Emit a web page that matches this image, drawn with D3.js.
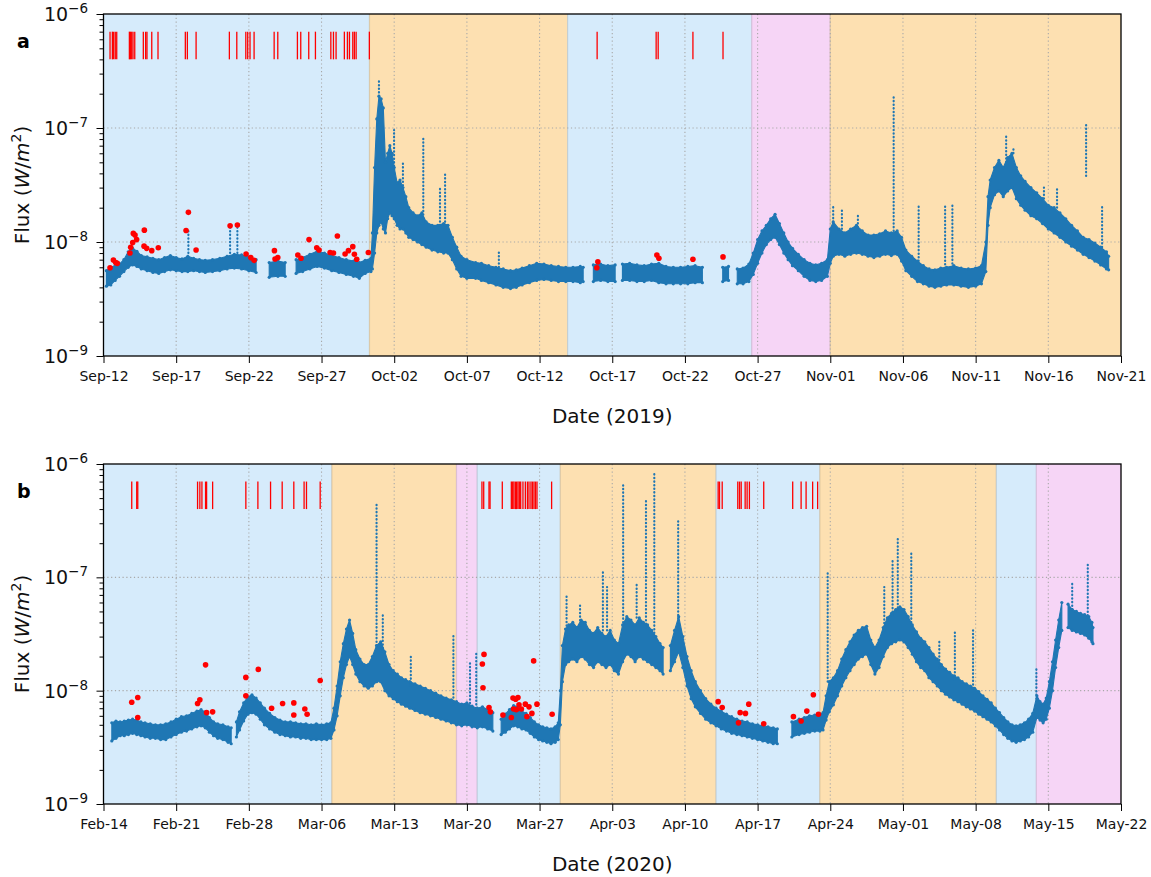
<!DOCTYPE html>
<html>
<head>
<meta charset="utf-8">
<script src="https://cdn.jsdelivr.net/npm/d3@7"></script>
<style>
  body { margin: 0; background: #fff; }
  svg { font-family: "DejaVu Sans", sans-serif; }
</style>
</head>
<body>
<svg id="chart" width="1151" height="877"></svg>
<script>
// flux values are written in units of 1e-9 W/m^2
const UNIT = 1e-9;
const FLARE_LO = 4e-7, FLARE_HI = 7e-7;

// ---------- 2019 ----------
const startA = new Date(Date.UTC(2019, 8, 12));
const endA = new Date(Date.UTC(2019, 10, 21));
// [from day, to day, kind]
const regionsA = [[0, 18.3, "quiet"], [18.3, 31.93, "active"], [31.93, 44.6, "quiet"], [44.6, 50.0, "rise"], [50.0, 70, "active"]];
const flaresA = [0.45, 0.61, 0.70, 0.81, 0.91, 1.78, 1.86, 1.94, 2.03, 2.15, 2.74, 2.90, 2.99, 3.32, 3.75, 5.63, 5.77, 6.37,
  8.66, 9.17, 9.79, 9.92, 10.08, 10.36, 11.74, 11.99, 13.34, 13.57, 14.12, 14.58, 15.64, 15.82, 16.00, 16.57, 16.78, 16.92,
  17.15, 17.26, 17.38, 18.29, 33.96, 38.02, 38.16, 40.55, 42.62];
// [day, low, high]
const fluxA = [[0.2,4.1,5.6],[0.5,4.2,6.0],[0.8,4.6,6.2],[1.1,5.0,6.4],[1.4,5.5,7.0],[1.7,6.0,8.2],[2.0,6.3,8.8],[2.3,6.1,8.3],
  [2.6,5.8,7.6],[3.0,5.6,7.4],[3.4,5.4,7.2],[3.8,5.3,7.0],[4.2,5.5,7.3],[4.6,5.7,7.6],[5.0,5.6,7.3],[5.4,5.5,7.1],[5.8,5.5,7.5],
  [6.2,5.6,7.2],[6.6,5.5,7.0],[7.0,5.4,6.9],[7.5,5.5,7.0],[8.0,5.6,7.2],[8.5,5.8,7.5],[9.0,5.9,7.8],[9.5,5.8,7.7],[10.0,5.6,7.4],
  [10.5,5.4,7.0],[10.6,null,null],[11.4,4.9,6.6],[12.0,5.0,6.8],[12.5,5.0,6.6],[12.6,null,null],[13.25,5.3,7.0],[13.7,5.5,7.3],
  [14.2,5.8,7.8],[14.7,6.1,8.3],[15.2,5.9,8.0],[15.7,5.6,7.6],[16.2,5.4,7.3],[16.7,5.2,7.0],[17.2,5.0,6.8],[17.6,4.8,6.6],
  [18.0,5.3,6.9],[18.4,5.5,7.2],[18.5,5.8,12],[18.65,8,45],[18.8,12,120],[18.95,14,190],[19.1,15,180],[19.25,13,150],
  [19.4,12,50],[19.55,16,60],[19.7,18,70],[19.85,17,60],[20.0,16,45],[20.2,14,33],[20.4,13,35],[20.6,13,30],[20.8,12,25],
  [21.0,11,20],[21.3,10.5,18],[21.6,10,17],[21.9,9.5,18],[22.2,9,15],[22.6,8.5,14],[23.0,8.2,14],[23.4,8.0,14.5],[23.7,8.0,14],
  [24.0,7.0,11],[24.3,5.8,9],[24.6,5.0,7.5],[25.0,4.8,7.0],[25.6,4.8,6.6],[26.0,4.6,6.5],[26.5,4.4,6.2],[27.0,4.2,6.0],
  [27.5,4.0,5.8],[28.0,3.9,5.6],[28.4,4.0,5.7],[28.8,4.2,5.9],[29.3,4.4,6.2],[29.8,4.6,6.5],[30.3,4.7,6.4],[30.8,4.6,6.2],
  [31.3,4.5,6.1],[31.8,4.5,6.0],[32.3,4.5,6.0],[32.8,4.4,6.1],[33.0,4.5,6.0],[33.1,null,null],[33.7,4.5,6.3],[34.2,4.6,6.4],
  [34.7,4.5,6.2],[35.2,4.5,6.3],[35.3,null,null],[35.7,4.6,6.4],[36.2,4.6,6.5],[36.7,4.5,6.3],[37.2,4.5,6.2],[37.7,4.6,6.4],
  [38.2,4.4,6.5],[38.7,4.3,6.1],[39.2,4.3,6.0],[39.7,4.3,6.0],[40.2,4.3,6.1],[40.7,4.4,6.2],[41.2,4.4,6.0],[41.3,null,null],
  [42.6,4.5,6.0],[43.0,4.6,6.1],[43.1,null,null],[43.6,4.3,5.8],[44.0,4.3,5.9],[44.4,4.5,6.4],[44.7,5.2,8.0],[45.0,6.5,10.5],
  [45.3,8.0,12.5],[45.6,9.5,14],[45.9,10.5,16],[46.2,11,17.5],[46.5,9.5,14.5],[46.8,8.0,12],[47.1,7.0,10],[47.4,6.2,8.8],
  [47.8,5.6,7.8],[48.2,5.0,7.0],[48.6,4.6,6.5],[49.0,4.5,6.3],[49.4,4.6,6.5],[49.8,5.0,7.0],[50.0,6.5,13],[50.2,7.5,15],
  [50.6,7.8,13],[51.0,7.5,12],[51.4,7.8,13],[51.8,8.0,14],[52.2,7.8,12.5],[52.6,7.5,11.5],[53.0,7.3,11.5],[53.4,7.5,11.8],
  [53.8,7.8,12.5],[54.2,7.6,12],[54.6,7.8,12.5],[54.9,6.8,11],[55.2,5.6,8.5],[55.6,5.0,7.5],[56.0,4.5,6.8],[56.4,4.3,6.2],
  [56.8,4.1,5.8],[57.2,4.0,5.7],[57.6,4.1,5.9],[58.0,4.2,6.0],[58.5,4.2,6.2],[59.0,4.1,5.9],[59.5,4.0,5.8],[60.0,4.1,5.9],
  [60.4,4.3,6.2],[60.7,5.5,10],[60.85,14,25],[61.0,20,35],[61.3,26,45],[61.6,28,52],[61.9,25,45],[62.2,28,55],[62.5,30,60],
  [62.8,24,45],[63.1,21,38],[63.4,19,34],[63.8,17,30],[64.2,16,27],[64.6,14.5,24],[65.0,13,21],[65.4,12,20],[65.8,11,18],
  [66.2,10,16],[66.6,9.2,14],[67.0,8.5,12.5],[67.4,7.8,11],[67.8,7.3,10.5],[68.2,6.8,9.8],[68.6,6.3,9.0],[69.0,5.8,8.2],
  [69.15,5.7,7.5]];
// isolated bursts: [day, base, top]
const spikesA = [[5.84,8.0,12.6],[8.71,8.0,13.9],[9.21,8.0,14.1],[18.95,190,263],[19.99,40,96],[20.6,27,50],[22.0,15,84],
  [23.15,14,30],[23.5,13,41],[27.2,6.0,8.2],[50.2,15,21],[50.8,13,19],[51.9,13.5,17],[54.36,12.5,188],[56.08,6.8,21],
  [57.9,5.9,21],[58.4,6.0,22],[62.1,50,84],[62.6,60,68],[64.7,24,30],[65.6,20,29],[67.6,38,110],[68.7,9,21]];
// red markers: [day, value]
const dotsA = [[0.45,5.95],[0.68,6.95],[0.84,6.6],[0.95,6.5],[1.82,8.0],[1.87,9.0],[2.01,9.9],[2.05,11.9],[2.17,11.5],
  [2.28,10.5],[2.81,12.7],[2.79,9.2],[2.97,8.8],[3.32,8.4],[3.77,8.9],[5.68,12.6],[5.84,18.2],[6.37,8.5],[8.71,13.9],
  [9.21,14.1],[9.81,7.85],[10.13,7.3],[10.36,6.9],[11.76,8.4],[11.80,7.1],[11.99,7.3],[13.37,7.7],[13.59,7.2],[14.14,10.5],
  [14.67,8.9],[14.83,8.5],[15.59,8.1],[15.82,8.0],[16.09,11.3],[16.62,7.85],[16.85,8.4],[17.15,9.1],[17.26,7.8],[17.42,7.05],
  [18.22,8.1],[34.01,6.7],[33.94,5.95],[38.07,7.7],[38.21,7.2],[40.55,7.05],[42.62,7.4]];

// ---------- 2020 ----------
const startB = new Date(Date.UTC(2020, 1, 14));
const endB = new Date(Date.UTC(2020, 4, 22));
const regionsB = [[0, 22, "quiet"], [22, 34, "active"], [34, 36, "rise"], [36, 44, "quiet"], [44, 59, "active"],
  [59, 69, "quiet"], [69, 86, "active"], [86, 89.85, "quiet"], [89.85, 98, "rise"]];
const flaresB = [2.72, 3.20, 3.30, 9.06, 9.28, 9.48, 9.83, 9.93, 10.51, 13.71, 14.87, 16.09, 17.21, 18.33, 19.32, 19.55, 20.87,
  36.45, 36.62, 37.13, 37.23, 38.41, 39.28, 39.41, 39.53, 39.67, 39.79, 39.92, 40.05, 40.18, 40.40, 40.63, 40.83, 40.98,
  41.17, 41.31, 41.46, 41.60, 41.75, 43.16, 59.2, 59.33, 59.59, 61.09, 61.26, 61.42, 61.8, 61.99, 62.21, 63.59,
  66.38, 67.19, 67.67, 68.3, 68.78];
const fluxB = [[0.8,3.6,5.2],[1.2,3.8,5.4],[1.6,4.0,5.3],[2.0,4.0,5.4],[2.4,4.1,5.5],[2.8,4.2,5.6],[3.2,4.1,5.5],[3.6,4.0,5.3],
  [4.0,3.9,5.2],[4.5,3.8,5.1],[5.0,3.8,5.0],[5.5,3.7,5.0],[6.0,3.7,5.1],[6.5,3.9,5.3],[7.0,4.1,5.6],[7.5,4.3,5.9],[8.0,4.4,6.0],
  [8.5,4.6,6.3],[9.0,4.8,6.6],[9.4,4.9,6.8],[9.8,4.7,6.5],[10.2,4.3,5.8],[10.6,4.0,5.3],[11.0,3.8,5.1],[11.5,3.7,5.0],
  [12.0,3.5,4.8],[12.3,3.4,4.7],[12.4,null,null],[12.8,3.9,5.3],[13.1,4.5,6.5],[13.5,5.4,7.8],[13.9,6.2,8.8],[14.3,6.4,9.2],
  [14.7,6.2,8.6],[15.1,5.6,7.8],[15.5,5.0,7.0],[16.0,4.6,6.3],[16.5,4.3,5.8],[17.0,4.1,5.5],[17.5,4.0,5.3],[18.0,3.9,5.3],
  [18.5,3.9,5.2],[19.0,3.8,5.1],[19.5,3.8,5.1],[20.0,3.7,5.0],[20.5,3.7,5.1],[21.0,3.7,5.0],[21.5,3.7,5.1],[21.9,3.8,5.2],
  [22.2,4.5,7.0],[22.5,6.0,11],[22.8,9,18],[23.1,13,26],[23.4,17,35],[23.7,20,42],[24.0,17,32],[24.3,14,23],[24.7,12,19],
  [25.1,11,17],[25.5,10.5,17],[25.9,11,20],[26.3,12,25],[26.7,12,27],[27.1,10,22],[27.5,9,17],[27.9,8.5,15],[28.3,8,14],
  [28.7,7.6,13],[29.1,7.3,12.5],[29.5,7,12],[30.0,6.7,11.5],[30.5,6.4,11],[31.0,6.2,10.5],[31.5,6.0,10],[32.0,5.8,9.5],
  [32.5,5.6,9],[33.0,5.4,8.6],[33.5,5.2,8.3],[34.0,5.0,8.0],[34.5,4.9,7.6],[35.0,5.0,7.8],[35.5,4.8,7.3],[36.0,4.7,7.0],
  [36.5,4.8,7.2],[37.0,4.6,6.8],[37.5,4.4,6.4],[37.6,null,null],[38.3,4.1,5.6],[38.7,4.3,6.2],[39.1,4.6,6.8],[39.5,4.9,7.4],
  [39.9,4.8,7.2],[40.3,4.6,6.6],[40.7,4.5,6.3],[41.1,4.2,5.8],[41.5,3.9,5.3],[41.9,3.7,5.0],[42.3,3.6,4.8],[42.7,3.5,4.7],
  [43.1,3.4,4.6],[43.5,3.5,4.8],[43.8,3.7,5.2],[44.0,5,10],[44.2,12,25],[44.5,17,35],[44.8,18,38],[45.2,19,40],[45.6,18,36],
  [46.0,20,42],[46.4,19,40],[46.8,17,34],[47.2,16,32],[47.6,18,36],[48.0,17,32],[48.4,16,30],[48.8,17,34],[49.2,15,28],
  [49.6,14,26],[50.0,18,38],[50.4,21,45],[50.8,20,42],[51.2,18,38],[51.6,20,44],[52.0,19,40],[52.4,18,38],[52.8,17,34],
  [53.2,16,30],[53.6,15,26],[53.9,14,24],[54.0,null,null],[54.6,15,25],[55.0,18,34],[55.4,22,45],[55.8,16,30],[56.2,11,20],
  [56.6,8.5,15],[57.0,7.2,12],[57.5,6.3,10],[58.0,5.6,8.5],[58.5,5.2,7.6],[59.0,4.9,7.0],[59.5,4.6,6.6],[60.0,4.4,6.2],
  [60.5,4.2,5.9],[61.0,4.1,5.6],[61.5,4.0,5.4],[62.0,3.9,5.3],[62.5,3.8,5.1],[63.0,3.7,5.0],[63.5,3.6,4.9],[64.0,3.5,4.8],
  [64.5,3.4,4.7],[64.9,3.4,4.6],[65.0,null,null],[66.3,3.9,5.3],[67.0,4.1,5.6],[67.5,4.2,5.8],[68.0,4.3,6.0],[68.5,4.4,6.1],
  [69.0,4.4,6.2],[69.3,4.5,6.4],[69.6,5.5,9],[69.9,6.5,12],[70.3,7.5,13],[70.7,9,15],[71.1,11,19],[71.5,13,23],[71.9,15,27],
  [72.3,17,31],[72.7,19,34],[73.1,20,36],[73.5,21,37],[73.9,17,28],[74.3,14,24],[74.7,16,28],[75.1,20,36],[75.5,24,44],
  [75.9,26,48],[76.3,27,52],[76.7,28,55],[77.1,27,52],[77.5,24,45],[77.9,21,38],[78.3,18,33],[78.7,16,29],[79.1,15,27],
  [79.5,13,24],[79.9,12,21],[80.3,11,19],[80.7,10,17],[81.1,9.3,15.5],[81.5,8.8,14.5],[81.9,8.3,13.5],[82.3,8.0,13],
  [82.7,7.6,12],[83.1,7.2,11.5],[83.5,6.9,11],[83.9,6.6,10.5],[84.3,6.2,9.8],[84.7,5.9,9],[85.1,5.6,8.4],[85.5,5.3,7.8],
  [85.9,4.9,7.0],[86.3,4.5,6.4],[86.7,4.1,5.8],[87.1,3.8,5.3],[87.5,3.6,5.0],[87.9,3.5,4.9],[88.3,3.6,5.0],[88.7,3.7,5.2],
  [89.1,3.9,5.6],[89.5,4.3,6.3],[89.9,5.8,9],[90.2,5.5,8],[90.5,5.2,7.6],[90.8,5.6,8.6],[91.1,7,12],[91.4,10,18],[91.7,16,28],
  [92.0,24,42],[92.3,34,60],[92.4,null,null],[92.9,36,58],[93.3,34,52],[93.7,33,50],[94.1,32,48],[94.5,31,47],[94.9,29,45],
  [95.2,27,40],[95.3,26,36]];
const spikesB = [[26.3,25,466],[26.9,22,48],[29.6,11,21],[33.7,7.5,32],[35.3,7.2,17.5],[35.9,7,22],[44.6,30,72],[45.9,36,59],
  [48.1,34,116],[48.5,34,82],[50.05,40,676],[51.35,44,87],[52.25,36,482],[53.05,30,829],[55.35,40,321],[69.75,12,109],
  [75.2,34,82],[76.0,46,142],[76.5,50,229],[77.8,40,169],[80.5,16,27],[82.0,12.5,33],[83.75,10.5,35],[89.85,8.5,15.7],
  [93.3,52,90],[94.8,46,135]];
const dotsB = [[2.72,7.9],[3.30,8.7],[3.30,5.8],[9.06,7.7],[9.28,8.3],[9.83,16.9],[9.93,6.4],[10.51,6.5],[13.71,13.1],
  [13.71,9.0],[14.91,15.4],[16.19,7.0],[17.25,7.7],[18.33,7.8],[18.33,6.1],[19.39,6.9],[19.61,6.2],[20.87,12.3],
  [36.65,20.9],[36.49,17.2],[36.55,10.6],[37.13,7.1],[37.26,6.5],[38.47,6.1],[39.28,5.8],[39.44,8.6],[39.70,8.4],
  [39.92,8.7],[39.50,6.9],[39.76,6.8],[40.02,7.5],[40.25,6.9],[40.63,7.6],[40.98,7.2],[41.43,18.3],[41.75,7.6],[41.26,6.3],
  [40.78,5.9],[43.21,6.2],[59.20,8.0],[59.59,7.1],[61.16,5.2],[61.32,6.4],[61.83,6.3],[62.15,7.6],[63.59,5.1],[66.45,5.9],
  [67.19,5.4],[67.74,6.6],[68.37,9.2],[68.86,6.2]];

const regionColors = { quiet: "#d6ebfb", active: "#fde0b1", rise: "#f6d5f6" };
const BLUE = "#1f77b4";
const DAY = 864e5;

const svg = d3.select("#chart");

function drawPanel(p) {
  const left = 103.5, right = 1121;
  const at = d => new Date(p.start.getTime() + d * DAY);

  const x = d3.scaleUtc().domain([p.start, p.end]).range([left, right]);
  const y = d3.scaleLog().domain([1e-9, 1e-6]).range([p.bottom, p.top]);
  const g = svg.append("g");

  // shaded periods
  p.regions.forEach(r => {
    const c = regionColors[r[2]];
    g.append("rect")
      .attr("x", x(at(r[0]))).attr("y", p.top)
      .attr("width", x(at(r[1])) - x(at(r[0]))).attr("height", p.bottom - p.top)
      .attr("fill", c);
    [r[0], r[1]].forEach(d => {
      if (d <= 0 || at(d) >= p.end) return;
      g.append("line")
        .attr("x1", x(at(d))).attr("x2", x(at(d)))
        .attr("y1", p.top).attr("y2", p.bottom)
        .attr("stroke", d3.color(c).darker(0.45)).attr("stroke-opacity", 0.65).attr("stroke-width", 1.2);
    });
  });

  const tickVals = d3.utcDay.range(p.start, new Date(p.end.getTime() + 1), p.step);

  // grid
  g.append("g").selectAll("line").data(tickVals.slice(1, -1)).join("line")
    .attr("x1", d => x(d)).attr("x2", d => x(d))
    .attr("y1", p.top).attr("y2", p.bottom)
    .attr("stroke", "#a8a8a8").attr("stroke-width", 1.1).attr("stroke-dasharray", "1.2,2.6");
  g.append("g").selectAll("line").data([1e-8, 1e-7]).join("line")
    .attr("x1", left).attr("x2", right)
    .attr("y1", d => y(d)).attr("y2", d => y(d))
    .attr("stroke", "#a8a8a8").attr("stroke-width", 1.1).attr("stroke-dasharray", "1.2,2.6");

  // flux band
  const ok = d => d[1] != null;
  const area = d3.area()
    .defined(ok)
    .x(d => x(at(d[0])))
    .y0(d => y(d[1] * UNIT))
    .y1(d => y(d[2] * UNIT));
  g.append("path").datum(p.flux)
    .attr("d", area)
    .attr("fill", BLUE).attr("stroke", BLUE).attr("stroke-width", 1.1).attr("stroke-linejoin", "round");

  const edge = p.flux.filter(ok).flatMap(d => [[d[0], d[1]], [d[0], d[2]]]);
  g.append("g").selectAll("circle").data(edge).join("circle")
    .attr("cx", d => x(at(d[0]))).attr("cy", d => y(d[1] * UNIT))
    .attr("r", 1.6).attr("fill", BLUE);

  // bursts
  g.append("g").selectAll("line").data(p.spikes).join("line")
    .attr("x1", d => x(at(d[0]))).attr("x2", d => x(at(d[0])))
    .attr("y1", d => y(d[1] * UNIT)).attr("y2", d => y(d[2] * UNIT))
    .attr("stroke", BLUE).attr("stroke-width", 2.2)
    .attr("stroke-linecap", "round").attr("stroke-dasharray", "0.4,3.2");

  // red markers
  g.append("g").selectAll("circle").data(p.dots).join("circle")
    .attr("cx", d => x(at(d[0]))).attr("cy", d => y(d[1] * UNIT))
    .attr("r", 2.8).attr("fill", "#f00");

  // flare ticks
  g.append("g").selectAll("line").data(p.flares).join("line")
    .attr("x1", d => x(at(d))).attr("x2", d => x(at(d)))
    .attr("y1", y(FLARE_LO)).attr("y2", y(FLARE_HI))
    .attr("stroke", "#f00").attr("stroke-width", 1.3);

  // frame
  g.append("rect")
    .attr("x", left).attr("y", p.top)
    .attr("width", right - left).attr("height", p.bottom - p.top)
    .attr("fill", "none").attr("stroke", "#000").attr("stroke-width", 1.3);

  // x axis
  const xa = g.append("g")
    .attr("transform", `translate(0,${p.bottom})`)
    .call(d3.axisBottom(x).tickValues(tickVals).tickFormat(d3.utcFormat("%b-%d")).tickSize(7).tickPadding(8));
  xa.select(".domain").remove();
  xa.selectAll("text").attr("font-size", 14).attr("font-family", "DejaVu Sans").attr("fill", "#111");

  // y axis: majors + minors
  const majors = [1e-9, 1e-8, 1e-7, 1e-6];
  const minors = y.ticks().filter(v => !majors.some(m => Math.abs(v / m - 1) < 1e-6));
  const ya = g.append("g")
    .attr("transform", `translate(${left},0)`)
    .call(d3.axisLeft(y).tickValues(majors).tickFormat(() => "").tickSize(7));
  ya.select(".domain").remove();
  const ym = g.append("g")
    .attr("transform", `translate(${left},0)`)
    .call(d3.axisLeft(y).tickValues(minors).tickFormat(() => "").tickSize(4));
  ym.select(".domain").remove();

  g.append("g").selectAll("text").data(majors).join("text")
    .attr("x", left - 15.5).attr("y", d => y(d)).attr("dy", "0.37em")
    .attr("text-anchor", "end").attr("font-size", 19).attr("fill", "#111")
    .each(function (d) {
      const t = d3.select(this);
      t.append("tspan").text("10");
      t.append("tspan").attr("dy", -8).attr("font-size", 13.5).text("\u2212" + Math.round(-Math.log10(d)));
    });

  // axis labels
  const yl = g.append("text")
    .attr("transform", `translate(29,${(p.top + p.bottom) / 2}) rotate(-90)`)
    .attr("text-anchor", "middle").attr("font-size", 20).attr("fill", "#111");
  yl.append("tspan").text("Flux (");
  yl.append("tspan").attr("font-style", "italic").text("W");
  yl.append("tspan").text("/");
  yl.append("tspan").attr("font-style", "italic").text("m");
  yl.append("tspan").attr("dy", -8).attr("font-size", 14).text("2");
  yl.append("tspan").attr("dy", 8).text(")");

  g.append("text")
    .attr("x", (left + right) / 2).attr("y", p.bottom + 67)
    .attr("text-anchor", "middle").attr("font-size", 20).attr("fill", "#111")
    .text(p.xlabel);

  g.append("text")
    .attr("x", 17).attr("y", p.top + 34)
    .attr("font-size", 19).attr("font-weight", "bold").attr("fill", "#000")
    .text(p.tag);
}

drawPanel({ start: startA, end: endA, step: 5, top: 14, bottom: 356, regions: regionsA, flux: fluxA,
  spikes: spikesA, dots: dotsA, flares: flaresA, xlabel: "Date (2019)", tag: "a" });
drawPanel({ start: startB, end: endB, step: 7, top: 464, bottom: 804, regions: regionsB, flux: fluxB,
  spikes: spikesB, dots: dotsB, flares: flaresB, xlabel: "Date (2020)", tag: "b" });
</script>
</body>
</html>
